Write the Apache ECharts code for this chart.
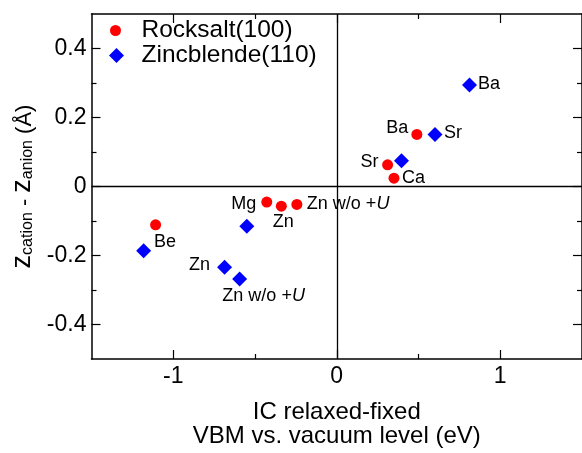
<!DOCTYPE html>
<html>
<head>
<meta charset="utf-8">
<script src="https://cdn.jsdelivr.net/npm/echarts@6/dist/echarts.min.js"></script>
<style>
  html, body { margin: 0; padding: 0; background: #fff; }
  #chart { width: 582px; height: 453px; }
</style>
</head>
<body>
<div id="chart"></div>
<script>
// Surface relaxation (z_cation - z_anion) vs. IC relaxed-fixed VBM shift
const rocksaltLabels = ['Be', 'Mg', 'Zn', 'Zn w/o +U', 'Ca', 'Sr', 'Ba'];
const rocksaltX = [-1.108, -0.428, -0.339, -0.244, 0.350, 0.311, 0.490];
const rocksaltY = [-0.111, -0.045, -0.057, -0.052, 0.024, 0.063, 0.151];

const zincblendeLabels = ['', '', 'Zn', 'Zn w/o +U', '', 'Sr', 'Ba'];
const zincblendeX = [-1.181, -0.550, -0.686, -0.594, 0.396, 0.601, 0.812];
const zincblendeY = [-0.186, -0.115, -0.234, -0.268, 0.075, 0.151, 0.294];

const xMajorTicks = [-1, 0, 1];
const xMinorTicks = [-0.5, 0.5];
const yMajorTicks = [-0.4, -0.2, 0, 0.2, 0.4];
const yMinorTicks = [-0.3, -0.1, 0.1, 0.3];

const FONT = 'Liberation Sans, Arial, Helvetica, sans-serif';

// where each point's text sits relative to its marker
const rocksaltPlacement = {
  'Be':        { position: 'right',  distance: 0,   offset: [-7, 17] },
  'Mg':        { position: 'left',   distance: 5,   offset: [0, 2.5] },
  'Zn':        { position: 'bottom', distance: 1,   offset: [2, 0] },
  'Zn w/o +U': { position: 'right',  distance: 4.5, offset: [0, 0] },
  'Ca':        { position: 'right',  distance: 2.5, offset: [0, 0] },
  'Sr':        { position: 'left',   distance: 3.5, offset: [0, -3] },
  'Ba':        { position: 'left',   distance: 3,   offset: [0, -6] }
};
const zincblendePlacement = {
  'Zn':        { position: 'left',   distance: 7,   offset: [0, -2] },
  'Zn w/o +U': { position: 'bottom', distance: 1,   offset: [24, 0] },
  'Sr':        { position: 'right',  distance: 1.5, offset: [0, -1] },
  'Ba':        { position: 'right',  distance: 1,   offset: [0, -1] }
};

const labelRich = {
  n: { fontSize: 18, fontFamily: FONT, color: '#000' },
  u: { fontSize: 18, fontFamily: FONT, color: '#000', fontStyle: 'italic' }
};

function labelText(name) {
  if (name.endsWith('+U')) return '{n|' + name.slice(0, -1) + '}{u|U}';
  return '{n|' + name + '}';
}

function buildPoints(xs, ys, names, placement) {
  return xs.map((x, i) => {
    const name = names[i];
    const p = { value: [x, ys[i]], name: name };
    if (name && placement[name]) {
      p.label = Object.assign({
        show: true,
        formatter: labelText(name),
        rich: labelRich
      }, placement[name]);
    }
    return p;
  });
}

function xAxisDef(pos, ticks, len, withLabels, showLine) {
  return {
    type: 'value', position: pos, min: -1.5, max: 1.5,
    splitLine: { show: false },
    axisLine: { show: showLine, onZero: false, lineStyle: { color: '#000', width: 1.5 } },
    axisTick: { show: true, inside: true, length: len, customValues: ticks,
                lineStyle: { color: '#000', width: 1.2 } },
    axisLabel: { show: withLabels, customValues: ticks, fontSize: 23, fontFamily: FONT,
                 color: '#000', margin: 6, formatter: v => String(v) }
  };
}

function yAxisDef(pos, ticks, len, withLabels, showLine) {
  return {
    type: 'value', position: pos, min: -0.5, max: 0.5,
    splitLine: { show: false },
    axisLine: { show: showLine, onZero: false, lineStyle: { color: '#000', width: 1.5 } },
    axisTick: { show: true, inside: true, length: len, customValues: ticks,
                lineStyle: { color: '#000', width: 1.2 } },
    axisLabel: { show: withLabels, customValues: ticks, fontSize: 23, fontFamily: FONT,
                 color: '#000', margin: 5, formatter: v => (v === 0 ? '0' : v.toFixed(1)) }
  };
}

const xBottom = xAxisDef('bottom', xMajorTicks, 9, true, true);
xBottom.name = 'IC relaxed-fixed\nVBM vs. vacuum level (eV)';
xBottom.nameLocation = 'middle';
xBottom.nameGap = 41;
xBottom.nameTextStyle = { fontSize: 24, lineHeight: 24, fontFamily: FONT, color: '#000' };

const yLeft = yAxisDef('left', yMajorTicks, 9, true, true);
yLeft.name = '{z|z}{s|cation}{t| - }{z|z}{s|anion}{t| (Å)}';
yLeft.nameLocation = 'middle';
yLeft.nameRotate = 90;
yLeft.nameGap = 52;
yLeft.nameTextStyle = {
  fontFamily: FONT, color: '#000',
  rich: {
    z: { fontSize: 27, lineHeight: 26, fontFamily: FONT, color: '#000', verticalAlign: 'bottom' },
    s: { fontSize: 16, lineHeight: 12, fontFamily: FONT, color: '#000', verticalAlign: 'bottom' },
    t: { fontSize: 22, lineHeight: 22, fontFamily: FONT, color: '#000', verticalAlign: 'bottom' }
  }
};

const chart = echarts.init(document.getElementById('chart'), null, { renderer: 'canvas' });

chart.setOption({
  animation: false,
  backgroundColor: '#fff',
  grid: { left: 91.5, right: -1.5, top: 14, bottom: 87, containLabel: false },
  xAxis: [
    xBottom,
    xAxisDef('bottom', xMinorTicks, 5, false, false),
    xAxisDef('top', xMajorTicks, 9, false, true),
    xAxisDef('top', xMinorTicks, 5, false, false)
  ],
  yAxis: [
    yLeft,
    yAxisDef('left', yMinorTicks, 5, false, false),
    yAxisDef('right', yMajorTicks, 9, false, true),
    yAxisDef('right', yMinorTicks, 5, false, false)
  ],
  legend: [
    {
      data: ['Rocksalt(100)'], left: 110, top: 18, padding: 0,
      itemWidth: 11, itemHeight: 11,
      textStyle: { fontSize: 24.5, fontFamily: FONT, color: '#000', padding: [0, 0, 0, 15.5] }
    },
    {
      data: ['Zincblende(110)'], left: 109, top: 43, padding: 0,
      itemWidth: 15, itemHeight: 15,
      textStyle: { fontSize: 24.5, fontFamily: FONT, color: '#000', padding: [0, 0, 0, 12.5] }
    }
  ],
  series: [
    {
      name: 'Rocksalt(100)', type: 'scatter', xAxisIndex: 0, yAxisIndex: 0,
      symbol: 'circle', symbolSize: 11,
      itemStyle: { color: '#ff0000', opacity: 1 },
      data: buildPoints(rocksaltX, rocksaltY, rocksaltLabels, rocksaltPlacement),
      markLine: {
        silent: true, symbol: 'none', animation: false,
        label: { show: false },
        lineStyle: { color: '#000', width: 1.3, type: 'solid' },
        data: [{ xAxis: 0 }, { yAxis: 0 }]
      },
      z: 3
    },
    {
      name: 'Zincblende(110)', type: 'scatter', xAxisIndex: 0, yAxisIndex: 0,
      symbol: 'diamond', symbolSize: 15,
      itemStyle: { color: '#0000ff', opacity: 1 },
      data: buildPoints(zincblendeX, zincblendeY, zincblendeLabels, zincblendePlacement),
      z: 3
    }
  ]
});
</script>
</body>
</html>
